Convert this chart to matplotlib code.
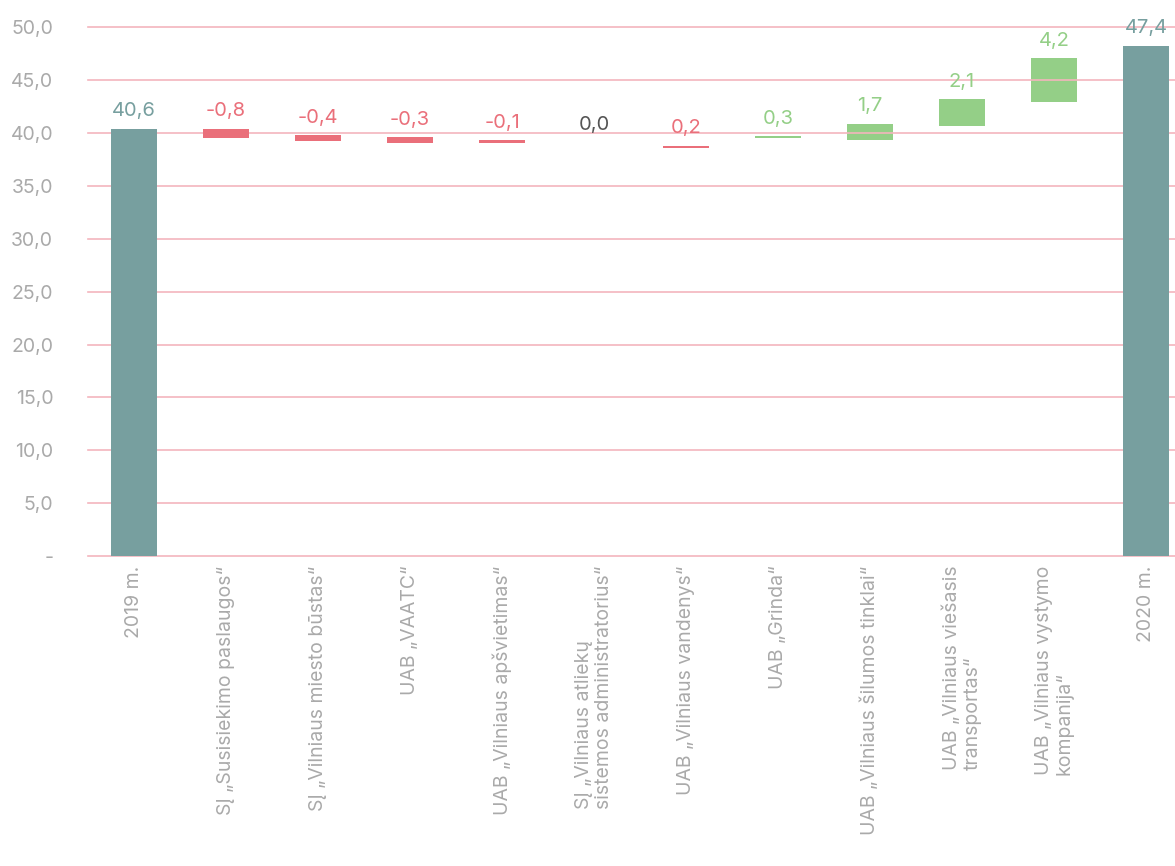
import matplotlib
matplotlib.use("Agg")
from matplotlib import pyplot as plt

# categories (x axis)
categories = [
    "2019 m.",
    "SĮ „Susisiekimo paslaugos“",
    "SĮ „Vilniaus miesto būstas“",
    "UAB „VAATC“",
    "UAB „Vilniaus apšvietimas“",
    "SĮ „Vilniaus atliekų\nsistemos administratorius“",
    "UAB „Vilniaus vandenys“",
    "UAB „Grinda“",
    "UAB „Vilniaus šilumos tinklai“",
    "UAB „Vilniaus viešasis\ntransportas“",
    "UAB „Vilniaus vystymo\nkompanija“",
    "2020 m.",
]
# value shown above each bar
values = [40.6, -0.8, -0.4, -0.3, -0.1, 0.0, 0.2, 0.3, 1.7, 2.1, 4.2, 47.4]
# bar extents as drawn in the source chart
bar_low = [0.0, 39.55, 39.2, 39.1, 39.05, 39.1, 38.6, 39.5, 39.3, 40.7, 42.9, 0.0]
bar_high = [40.4, 40.4, 39.8, 39.6, 39.35, 39.1, 38.8, 39.7, 40.9, 43.2, 47.1, 48.25]
kinds = ["total", "down", "down", "down", "down", "zero", "down",
         "up", "up", "up", "up", "total"]

yticks = [0, 5, 10, 15, 20, 25, 30, 35, 40, 45, 50]

colors = {"total": "#779f9f", "down": "#ea6f7a", "up": "#94cf87", "zero": "#555555"}
grid_color = "#f4b5bd"
tick_color = "#aaaaaa"

plt.rcParams["font.family"] = ["Inter", "DejaVu Sans"]

fig = plt.figure(figsize=(11.75, 8.66), dpi=100)
ax = fig.add_axes([88 / 1175, 310 / 866, 1104 / 1175, 528.7 / 866])

for y in yticks:
    ax.axhline(y, color=grid_color, lw=1.2, zorder=1.5, clip_on=False)

for i, (lo, hi, k, v) in enumerate(zip(bar_low, bar_high, kinds, values)):
    # green bars sit under the grid lines in the source
    z = 1 if k == "up" else 2
    ax.bar(i, hi - lo, bottom=lo, width=0.5, color=colors[k], zorder=z)
    lab = ("%.1f" % v).replace(".", ",")
    ax.annotate(lab, (i, hi), xytext=(0, 6), textcoords="offset points",
                ha="center", va="bottom", fontsize=14.5, color=colors[k],
                annotation_clip=False)

ax.set_xlim(-0.5, 11.5)
ax.set_ylim(0, 50)
ax.set_yticks(yticks)
ax.set_yticklabels(["-"] + [("%.1f" % y).replace(".", ",") for y in yticks[1:]])
ax.set_xticks(range(len(categories)))
ax.set_xticklabels(categories, rotation=90, va="top", ha="center",
                   multialignment="left")
ax.tick_params(axis="both", length=0, colors=tick_color, labelsize=14)
ax.tick_params(axis="y", pad=25)
ax.tick_params(axis="x", pad=7)
for s in ax.spines.values():
    s.set_visible(False)

fig.savefig("out.png", dpi=100)
